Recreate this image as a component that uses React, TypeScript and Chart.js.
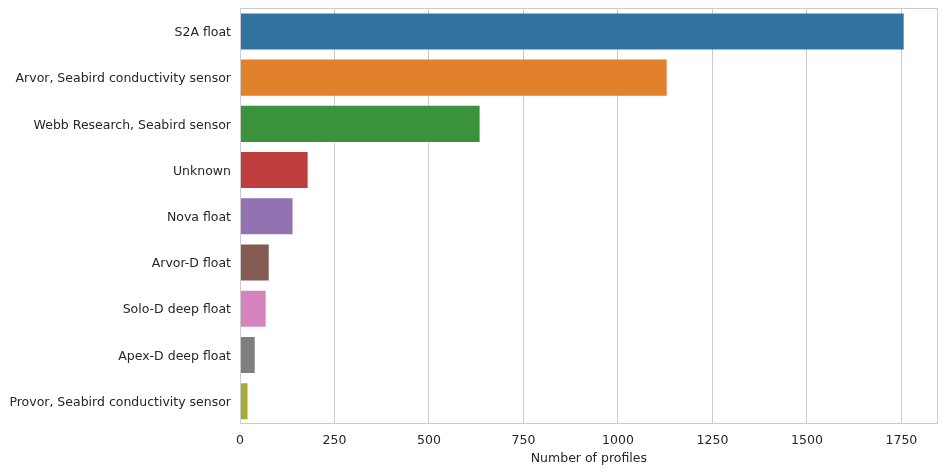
import React, { useEffect, useRef } from "react";
import { Chart, registerables } from "chart.js";

Chart.register(...registerables);

const categories = [
  "S2A float",
  "Arvor, Seabird conductivity sensor",
  "Webb Research, Seabird sensor",
  "Unknown",
  "Nova float",
  "Arvor-D float",
  "Solo-D deep float",
  "Apex-D deep float",
  "Provor, Seabird conductivity sensor",
];
const profileCounts = [1756, 1129, 634, 179, 139, 76, 68, 39, 20];
const barColors = [
  "#3274a1",
  "#e1812c",
  "#3a923a",
  "#c03d3e",
  "#9372b2",
  "#845b53",
  "#d684bd",
  "#7f7f7f",
  "#a9aa35",
];
const xTicks = [0, 250, 500, 750, 1000, 1250, 1500, 1750];
const xMax = 1846;
const xTitle = "Number of profiles";

const frame = {
  id: "frame",
  afterDatasetsDraw(chart: any) {
    const { ctx, chartArea } = chart;
    ctx.save();
    ctx.strokeStyle = "#cccccc";
    ctx.lineWidth = 1;
    ctx.strokeRect(
      Math.round(chartArea.left) + 0.5,
      Math.round(chartArea.top) + 0.5,
      Math.round(chartArea.right - chartArea.left) - 1,
      Math.round(chartArea.bottom - chartArea.top) - 1
    );
    ctx.restore();
  },
};

export default function App() {
  const ref = useRef<HTMLCanvasElement | null>(null);
  useEffect(() => {
    if (!ref.current) return;
    const font = { family: "'DejaVu Sans'", size: 12.5 };
    const chart = new Chart(ref.current, {
      type: "bar",
      data: {
        labels: categories,
        datasets: [
          {
            data: profileCounts,
            backgroundColor: barColors,
            borderWidth: 0,
            barPercentage: 0.78,
            categoryPercentage: 1.0,
          },
        ],
      },
      options: {
        indexAxis: "y",
        animation: false,
        responsive: true,
        maintainAspectRatio: false,
        layout: { padding: { left: 0, right: 8.3, top: 8.3, bottom: 0 } },
        plugins: { legend: { display: false }, tooltip: { enabled: false } },
        scales: {
          x: {
            min: 0,
            max: xMax,
            afterBuildTicks(scale: any) {
              scale.ticks = xTicks.map((v) => ({ value: v }));
            },
            afterFit(scale: any) {
              scale.height = 48.7;
              scale.paddingLeft = 0;
              scale.paddingRight = 0;
            },
            ticks: {
              color: "#262626",
              font,
              padding: 9,
              maxRotation: 0,
              autoSkip: false,
              callback: (v: any) => String(v),
            },
            grid: { color: "#cccccc", drawTicks: false, lineWidth: 1 },
            border: { display: false },
            title: {
              display: true,
              text: xTitle,
              color: "#262626",
              font,
              padding: { top: 3, bottom: 6.7 },
            },
          },
          y: {
            afterFit(scale: any) {
              scale.width = 240;
              scale.paddingTop = 0;
              scale.paddingBottom = 0;
            },
            ticks: { color: "#262626", font, padding: 9, labelOffset: 1.5 },
            grid: { display: false, drawTicks: false },
            border: { display: false },
          },
        },
      },
      plugins: [frame],
    });
    return () => chart.destroy();
  }, []);
  return (
    <div style={{ position: "fixed", left: 0, top: 0, width: 946, height: 473, background: "#fff" }}>
      <canvas ref={ref} />
    </div>
  );
}
